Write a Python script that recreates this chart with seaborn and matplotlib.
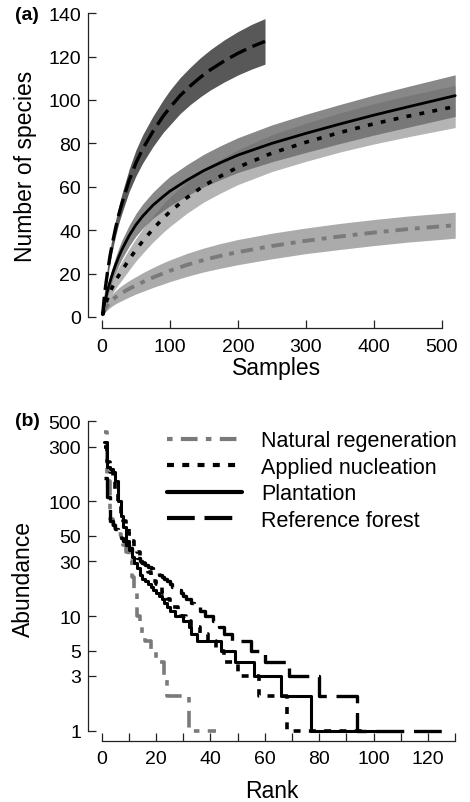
import matplotlib
matplotlib.use("Agg")
import matplotlib.pyplot as plt
import seaborn as sns
import pandas as pd
from matplotlib.ticker import NullLocator

# ---------------- Panel (a): rarefaction curves ----------------
samples_ref = [1, 3, 5, 8, 12, 16, 20, 25, 30, 40, 50, 60, 75, 90, 100, 115, 130, 145, 160,
               180, 200, 220, 240]
ref_mean = [1, 8, 13.5, 20.5, 28.5, 35, 41, 47.5, 53, 63, 71, 77.5, 85.5, 92.5, 96.5, 102,
            106.5, 110.5, 114, 118, 121.5, 124.5, 127]
ref_lo = [1, 6.5, 11.5, 18, 25.5, 31.7, 37.4, 43.5, 48.5, 57.8, 65, 71, 78.5, 85, 88.5, 93.7,
          97.9, 101.5, 104.7, 108.3, 111.5, 114.2, 116.5]
ref_hi = [1, 9.5, 15.5, 23, 31.5, 38.3, 44.6, 51.5, 57.5, 68.2, 77, 84, 92.5, 100, 104.5, 110.3,
          115.1, 119.5, 123.3, 127.7, 131.5, 134.8, 137.5]

samples = [1, 3, 5, 8, 12, 16, 20, 25, 30, 40, 50, 60, 75, 90, 100, 125, 150, 175, 200, 250,
           300, 350, 400, 450, 520]
plant_mean = [1, 5, 8, 12, 16.5, 20.5, 24, 28, 31.5, 37.5, 42.5, 46.5, 51.5, 55.5, 58, 63, 67.5,
              71.2, 74.6, 80, 84.6, 88.9, 93, 96.8, 102]
plant_lo = [1, 3.7, 6.2, 9.7, 13.7, 17.3, 20.4, 24, 27.2, 32.7, 37.3, 40.9, 45.5, 49, 51.2, 55.8,
            60, 63.4, 66.6, 71.5, 75.8, 79.9, 83.8, 87.4, 92.4]
plant_hi = [1, 6.3, 9.8, 14.3, 19.3, 23.7, 27.6, 32, 35.8, 42.3, 47.7, 52.1, 57.5, 62, 64.8, 70.2,
            75, 79, 82.6, 88.5, 93.4, 97.9, 102.2, 106.2, 111.6]

nuc_mean = [1, 3.5, 5.5, 8.3, 11.5, 14.3, 16.8, 19.3, 21.7, 26.5, 31, 35, 40.5, 45.5, 48.5, 55,
            60.5, 65, 69, 75.5, 80.5, 85, 89, 92.5, 97]
nuc_lo = [1, 2.2, 3.7, 6, 8.7, 11.1, 13.2, 15.3, 17.4, 21.7, 25.8, 29.4, 34.5, 39, 41.7, 47.8, 53,
          57.2, 61, 67, 71.7, 76, 79.7, 83, 87.3]
nuc_hi = [1, 4.8, 7.3, 10.6, 14.3, 17.5, 20.4, 23.3, 26, 31.3, 36.2, 40.6, 46.5, 52, 55.3, 62.2,
          68, 72.8, 77, 84, 89.3, 94, 98.3, 102, 106.7]

nat_mean = [1, 2.7, 3.9, 5.3, 6.9, 8.1, 9.1, 10.2, 11.2, 13, 14.6, 16.1, 18.2, 20.1, 21.3, 24,
            26.3, 28.2, 29.9, 32.7, 35.1, 37.1, 38.9, 40.5, 42.3]
nat_lo = [1, 1.7, 2.4, 3.3, 4.4, 5.3, 6.1, 6.9, 7.7, 9.2, 10.6, 11.8, 13.6, 15.2, 16.3, 18.7, 20.8,
          22.5, 24.1, 26.8, 29.2, 31.1, 32.9, 34.5, 36.3]
nat_hi = [1, 3.7, 5.4, 7.3, 9.4, 10.9, 12.1, 13.5, 14.7, 16.8, 18.6, 20.4, 22.8, 25, 26.3, 29.3,
          31.8, 33.9, 35.7, 38.6, 41, 43.1, 44.9, 46.5, 48.3]

# ---------------- Panel (b): rank-abundance ----------------
nat_abund = ([400, 150, 70, 62, 56, 52, 48, 42, 36, 30, 22, 16, 10, 8, 7, 6, 6, 5, 5, 4, 4, 4, 3]
             + [2] * 8 + [1] * 11)
nuc_abund = ([300, 220, 180, 150, 120, 95, 75, 68, 60, 52, 45, 40, 36, 32, 29, 26, 24, 22, 20, 19,
              18, 16, 15, 14, 13, 12, 12, 11, 10, 10, 9, 9, 8, 8, 8, 7, 7, 7, 6, 6, 6, 5, 5, 5]
             + [4] * 5 + [3] * 8 + [2] * 10 + [1] * 29)
plant_abund = ([330, 200, 190, 180, 150, 100, 75, 60, 45, 38, 33, 29, 26, 23, 21, 20, 19, 18, 17, 16,
                15, 14, 13, 12, 11, 11, 10, 10, 10, 9, 9, 8, 7, 7]
               + [6] * 9 + [5] * 5 + [4] * 7 + [3] * 10 + [2] * 11 + [1] * 26)
ref_abund = ([160, 110, 68, 62, 57, 52, 48, 45, 42, 39, 36, 34, 32, 30, 29, 28, 27, 26, 25, 24,
              23, 22, 21, 20, 19, 18, 18, 17, 16, 15, 14, 14, 13, 12, 12, 11, 11, 10, 10, 10,
              9, 9, 8, 8, 7, 7, 7]
             + [6] * 7 + [5] * 5 + [4] * 9 + [3] * 11 + [2] * 14 + [1] * 35)

labels = ["Natural regeneration", "Applied nucleation", "Plantation", "Reference forest"]

sns.set_style("ticks")
plt.rcParams['font.family'] = ['Liberation Sans', 'DejaVu Sans']
plt.rcParams['lines.scale_dashes'] = False
plt.rcParams['axes.edgecolor'] = '#222222'
plt.rcParams['xtick.color'] = '#222222'
plt.rcParams['ytick.color'] = '#222222'
plt.rcParams['xtick.labelcolor'] = 'black'
plt.rcParams['ytick.labelcolor'] = 'black'
plt.rcParams['text.color'] = 'black'
plt.rcParams['axes.labelcolor'] = 'black'

fig = plt.figure(figsize=(4.7, 8.03), dpi=100)
W, H = 470.0, 803.0

axA = fig.add_axes([88 / W, 1 - 329 / H, 374 / W, 317 / H])
axB = fig.add_axes([88 / W, 1 - 741.7 / H, 375.3 / W, 321.5 / H])

# ---- panel (a)
axA.fill_between(samples, nat_lo, nat_hi, color='#ababab', lw=0)
axA.fill_between(samples, nuc_lo, nuc_hi, color='#b4b4b4', lw=0)
axA.fill_between(samples, plant_lo, plant_hi, color='#6a6a6a', alpha=0.8, lw=0)
axA.fill_between(samples_ref, ref_lo, ref_hi, color='#585858', lw=0)

dfA_nat = pd.DataFrame({"x": samples, "y": nat_mean})
dfA_nuc = pd.DataFrame({"x": samples, "y": nuc_mean})
dfA_plant = pd.DataFrame({"x": samples, "y": plant_mean})
dfA_ref = pd.DataFrame({"x": samples_ref, "y": ref_mean})

sns.lineplot(data=dfA_nat, x="x", y="y", ax=axA, color='#7a7a7a', lw=2.8,
             linestyle=(0, (9, 5, 3.5, 5)))
sns.lineplot(data=dfA_nuc, x="x", y="y", ax=axA, color='black', lw=2.6,
             linestyle=(0, (3.5, 6)))
sns.lineplot(data=dfA_plant, x="x", y="y", ax=axA, color='black', lw=2.0)
sns.lineplot(data=dfA_ref, x="x", y="y", ax=axA, color='black', lw=2.4,
             linestyle=(0, (13, 5)))

axA.set_xlim(-20.6, 530)
axA.set_ylim(-5.07, 141)
axA.spines[['top', 'right']].set_visible(False)
axA.spines['left'].set_bounds(0, 140)
axA.spines['bottom'].set_bounds(0, 500)
for s in ['left', 'bottom']:
    axA.spines[s].set_linewidth(0.9)
axA.set_xticks(range(0, 501, 100))
axA.set_yticks(range(0, 141, 20))
axA.tick_params(axis='both', direction='in', length=5.5, width=0.9, labelsize=14)
axA.tick_params(axis='x', pad=7)
axA.tick_params(axis='y', pad=5)
axA.set_xlabel("Samples", fontsize=16.5, va='center')
axA.set_ylabel("Number of species", fontsize=16.5, va='center')
axA.xaxis.set_label_coords(0.505, -0.126)
axA.yaxis.set_label_coords(-0.168, 0.514)

# ---- panel (b)
dfB = {
    "nat": pd.DataFrame({"rank": range(1, len(nat_abund) + 1), "ab": nat_abund}),
    "nuc": pd.DataFrame({"rank": range(1, len(nuc_abund) + 1), "ab": nuc_abund}),
    "plant": pd.DataFrame({"rank": range(1, len(plant_abund) + 1), "ab": plant_abund}),
    "ref": pd.DataFrame({"rank": range(1, len(ref_abund) + 1), "ab": ref_abund}),
}
axB.set_yscale('log')
sns.lineplot(data=dfB["nat"], x="rank", y="ab", ax=axB, color='#7a7a7a', lw=2.6,
             linestyle=(0, (4, 6, 12, 6)), drawstyle='steps-post', label=labels[0])
sns.lineplot(data=dfB["ref"], x="rank", y="ab", ax=axB, color='black', lw=2.4,
             linestyle=(0, (20, 7)), drawstyle='steps-post', label=labels[3])
sns.lineplot(data=dfB["nuc"], x="rank", y="ab", ax=axB, color='black', lw=2.6,
             linestyle=(0, (5, 6)), drawstyle='steps-post', label=labels[1])
sns.lineplot(data=dfB["plant"], x="rank", y="ab", ax=axB, color='black', lw=2.2,
             drawstyle='steps-post', label=labels[2])

axB.set_xlim(-5.04, 133)
axB.set_ylim(0.818, 520)
axB.spines[['top', 'right']].set_visible(False)
axB.spines['left'].set_bounds(1, 500)
axB.spines['bottom'].set_bounds(0, 130)
for s in ['left', 'bottom']:
    axB.spines[s].set_linewidth(0.9)
yt = [1, 3, 5, 10, 30, 50, 100, 300, 500]
axB.set_yticks(yt)
axB.set_yticklabels([str(v) for v in yt])
axB.yaxis.set_minor_locator(NullLocator())
xt = list(range(0, 131, 10))
axB.set_xticks(xt)
axB.set_xticklabels([str(v) if v % 20 == 0 else '' for v in xt])
axB.tick_params(axis='both', direction='in', length=5.5, width=0.9, labelsize=14)
axB.tick_params(axis='x', pad=7)
axB.tick_params(axis='y', pad=5)
axB.set_xlabel("Rank", fontsize=16.5, va='center')
axB.set_ylabel("Abundance", fontsize=16.5, va='center')
axB.xaxis.set_label_coords(0.49, -0.156)
axB.yaxis.set_label_coords(-0.171, 0.506)

handles, labs = axB.get_legend_handles_labels()
order = [labs.index(l) for l in labels]
leg = axB.legend([handles[i] for i in order], [labs[i] for i in order],
                 loc='upper left', bbox_to_anchor=(167 / W, 1 - 431.5 / H),
                 bbox_transform=fig.transFigure, frameon=False, fontsize=15.5,
                 handlelength=3.49, handletextpad=0.88, labelspacing=0.25,
                 borderpad=0, borderaxespad=0)
for ln in leg.get_lines():
    ln.set_linewidth(3.0)

fig.text(15 / W, 1 - 16 / H, "(a)", fontsize=14, fontweight='bold', ha='left', va='center')
fig.text(15 / W, 1 - 422 / H, "(b)", fontsize=14, fontweight='bold', ha='left', va='center')

fig.savefig("out.png", dpi=100)
